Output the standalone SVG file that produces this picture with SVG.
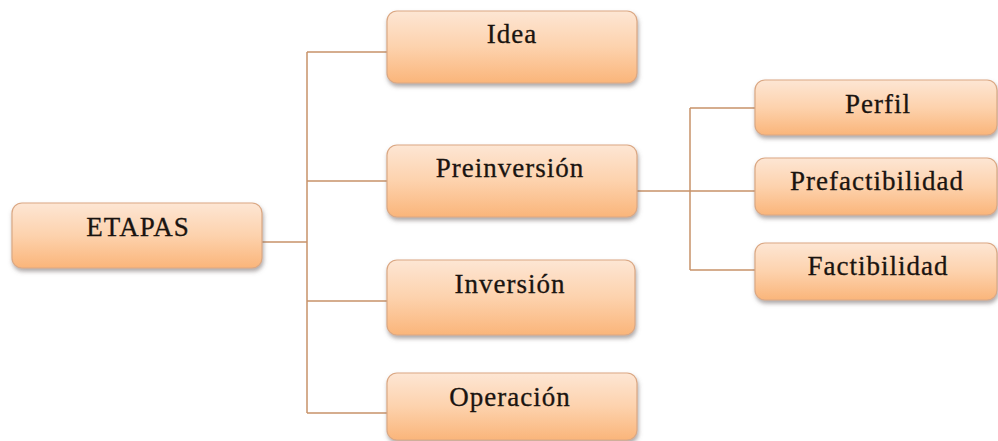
<svg xmlns="http://www.w3.org/2000/svg" width="998" height="441" viewBox="0 0 998 441">
<defs>
<linearGradient id="g" x1="0" y1="0" x2="0" y2="1">
<stop offset="0" stop-color="#fde6d4"/>
<stop offset="0.5" stop-color="#fdd2ad"/>
<stop offset="1" stop-color="#fab57a"/>
</linearGradient>
<filter id="sh" x="-10%" y="-20%" width="120%" height="150%">
<feDropShadow dx="1" dy="3" stdDeviation="2" flood-color="#6a6060" flood-opacity="0.55"/>
</filter>
<style>
.box{fill:url(#g);stroke:#dba884;stroke-width:1.2;filter:url(#sh)}
.t{font-family:'Liberation Serif','DejaVu Serif','Times New Roman',serif;font-size:27px;letter-spacing:1px;fill:#1a1410;stroke:#1a1410;stroke-width:0.3;text-anchor:middle}
.c{fill:none;stroke:#c8936a;stroke-width:1.5}
</style>
</defs>
<rect width="998" height="441" fill="#ffffff"/>
<g id="connectors">
<path class="c" d="M262,242 H307 M307,52 V413 M307,52 H387 M307,181 H387 M307,301 H387 M307,413 H387"/>
<path class="c" d="M637,191 H690 M690,108 V270 M690,108 H755 M690,191 H755 M690,270 H755"/>
</g>
<g id="n-etapas"><rect class="box" x="12" y="203" width="250" height="65" rx="10"/><text class="t" x="138" y="236">ETAPAS</text></g>
<g id="n-idea"><rect class="box" x="387" y="11" width="250" height="72" rx="10"/><text class="t" x="512" y="43">Idea</text></g>
<g id="n-preinversion"><rect class="box" x="387" y="145" width="250" height="72" rx="10"/><text class="t" x="510" y="177">Preinversión</text></g>
<g id="n-inversion"><rect class="box" x="387" y="260" width="248" height="75" rx="10"/><text class="t" x="510" y="293">Inversión</text></g>
<g id="n-operacion"><rect class="box" x="387" y="373" width="250" height="67" rx="10"/><text class="t" x="510" y="406">Operación</text></g>
<g id="n-perfil"><rect class="box" x="755" y="80" width="242" height="55" rx="10"/><text class="t" x="878" y="113">Perfil</text></g>
<g id="n-prefactibilidad"><rect class="box" x="755" y="158" width="242" height="57" rx="10"/><text class="t" x="877" y="190">Prefactibilidad</text></g>
<g id="n-factibilidad"><rect class="box" x="755" y="243" width="242" height="57" rx="10"/><text class="t" x="878" y="275">Factibilidad</text></g>
</svg>
